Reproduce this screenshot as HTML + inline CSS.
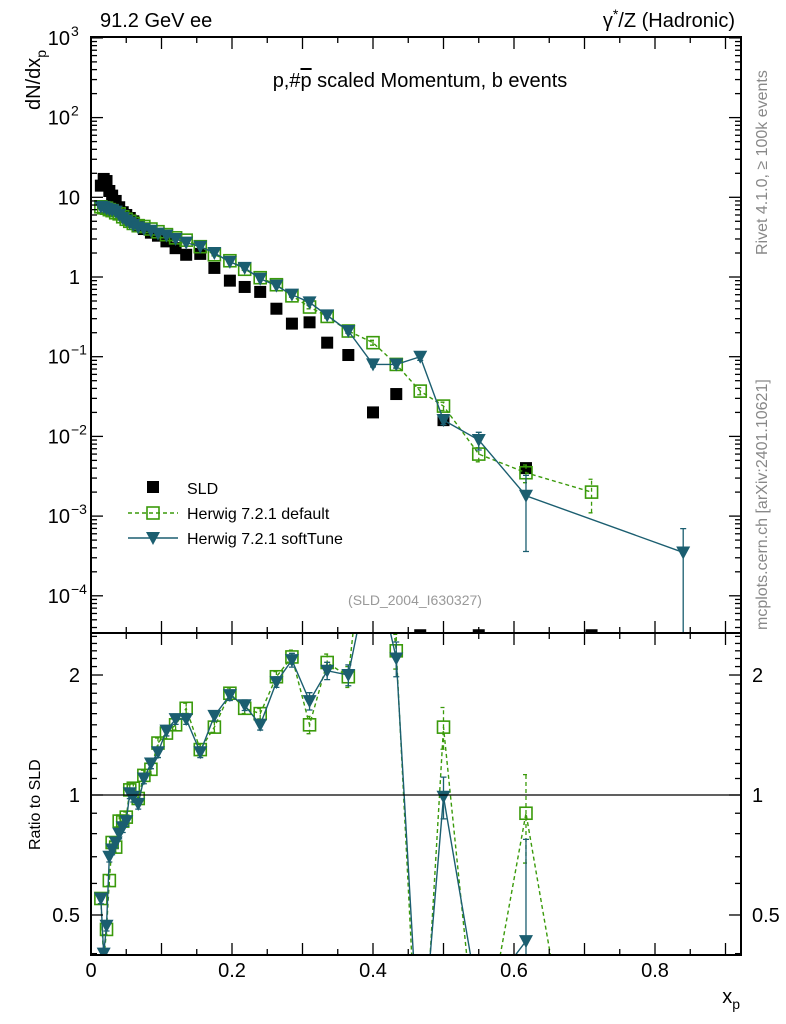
<!DOCTYPE html>
<html><head><meta charset="utf-8"><style>
html,body{margin:0;background:#fff;overflow:hidden;width:786px;height:1024px;}
svg{display:block;font-family:"Liberation Sans",sans-serif;}
</style></head><body>
<svg id="c" width="786" height="1024"></svg>
<script>
const xs     =[0.014,0.018,0.022,0.026,0.030,0.035,0.040,0.045,0.050,0.055,0.060,0.067,0.075,0.085,0.095,0.107,0.120,0.135,0.155,0.175,0.197,0.218,0.240,0.263,0.285,0.310,0.335,0.365,0.400,0.433,0.467,0.500,0.550,0.617,0.710,0.840];
const sld    =[14,17,16,12,10.5,9,7.5,6.5,6,5.5,5,4.5,4,3.6,3.3,2.8,2.3,1.9,1.95,1.3,0.9,0.75,0.65,0.4,0.26,0.27,0.15,0.105,0.02,0.034,3.2e-5,0.016,3.2e-5,0.004,3.2e-5,null];
const hwDef  =[7.6,7.4,7.3,7.0,6.8,6.4,6.2,5.7,5.3,5.0,4.7,4.4,4.3,4.0,3.7,3.4,3.1,2.9,2.4,1.9,1.6,1.25,0.98,0.8,0.58,0.42,0.32,0.21,0.15,0.08,0.037,0.024,0.006,0.0035,0.002,null];
const hwSoft =[7.6,7.5,7.2,7.0,6.9,6.6,6.0,5.5,5.1,4.8,4.5,4.2,4.0,3.8,3.5,3.3,3.0,2.7,2.4,2.0,1.55,1.3,0.95,0.78,0.6,0.48,0.33,0.21,0.08,0.08,0.1,0.016,0.009,0.0018,null,0.00035];
const rDef   =[0.55,0.38,0.46,0.61,0.76,0.74,0.86,0.86,0.88,1.03,1.04,0.98,1.12,1.16,1.35,1.43,1.5,1.65,1.3,1.48,1.8,1.65,1.6,1.98,2.22,1.5,2.15,1.98,7.5,2.3,0.15,1.48,0.2,0.9,0.1,null];
const rSoft  =[0.55,0.4,0.47,0.7,0.73,0.76,0.8,0.83,0.86,1.01,0.99,0.95,1.1,1.2,1.28,1.45,1.55,1.55,1.28,1.58,1.78,1.68,1.5,1.92,2.18,1.72,2.05,2.0,4.0,2.2,0.2,0.99,0.3,0.43,null,null];
const errDef =[0.03,0.03,0.03,0.03,0.03,0.03,0.03,0.03,0.03,0.03,0.03,0.03,0.03,0.03,0.03,0.03,0.03,0.03,0.03,0.03,0.03,0.03,0.03,0.03,0.04,0.05,0.05,0.06,0.07,0.1,0.1,0.12,0.2,0.25,0.45,0];
const errSoft=[0.03,0.03,0.03,0.03,0.03,0.03,0.03,0.03,0.03,0.03,0.03,0.03,0.03,0.03,0.03,0.03,0.03,0.03,0.03,0.03,0.03,0.03,0.03,0.03,0.04,0.05,0.05,0.06,0.07,0.1,0.1,0.12,0.25,0.8,0,0.99];

const L=91,R=741,T=37,MB=633,B=955;
const X=v=>L+v*705;
const Y=v=>277-79.7*Math.log10(v);
const RY=v=>795-398.6*Math.log10(v);
const svg=document.getElementById('c');
const NS='http://www.w3.org/2000/svg';
function el(t,a,p){const e=document.createElementNS(NS,t);for(const k in a)e.setAttribute(k,a[k]);(p||svg).appendChild(e);return e;}
el('defs',{}).innerHTML='<clipPath id="cm"><rect x="91" y="37" width="650" height="596"/></clipPath><clipPath id="cr"><rect x="91" y="633" width="650" height="322"/></clipPath>';
const gm=el('g',{'clip-path':'url(#cm)'});


const gr=el('g',{'clip-path':'url(#cr)'});


const GREEN='#3a9a0a',TEAL='#1b5e70';
function tri(g,x,y,n){const t=el('polygon',{points:`${x-7},${y-6} ${x+7},${y-6} ${x},${y+7}`,fill:TEAL},g);}
function sq(g,x,y,n){const s=el('rect',{x:x-6,y:y-6,width:12,height:12,fill:'none',stroke:GREEN,'stroke-width':1.6},g);}
function series(g,vals,errs,yf,col,dash,mark,name){
  let pts=[];
  vals.forEach((v,i)=>{if(v==null)return;pts.push(`${X(xs[i])},${yf(v)}`);});
  const pl=el('polyline',{points:pts.join(' '),fill:'none',stroke:col,'stroke-width':1.4,'stroke-dasharray':dash},g);
  
  
  vals.forEach((v,i)=>{if(v==null)return;const e=errs[i];if(e>0){const lo=Math.max(v*(1-e),1e-9),hi=v*(1+e);
    const eb=el('path',{d:`M${X(xs[i])},${yf(lo)}V${yf(hi)}M${X(xs[i])-3},${yf(lo)}h6M${X(xs[i])-3},${yf(hi)}h6`,stroke:col,'stroke-width':1.3,fill:'none','stroke-dasharray':dash},g);
    
    }
    mark(g,X(xs[i]),yf(v),name+'-point');});
}
sld.forEach((v,i)=>{if(v==null)return;const r=el('rect',{x:X(xs[i])-6,y:Y(v)-6,width:12,height:12,fill:'#000'},gm);

});
series(gm,hwDef,errDef,Y,GREEN,'4,3',sq,'herwig-default');
series(gm,hwSoft,errSoft,Y,TEAL,'',tri,'herwig-softtune');
const one=el('line',{x1:L,x2:R,y1:RY(1),y2:RY(1),stroke:'#000','stroke-width':1.3});


series(gr,rDef,errDef,RY,GREEN,'4,3',sq,'ratio-herwig-default');
series(gr,rSoft,errSoft,RY,TEAL,'',tri,'ratio-herwig-softtune');
[[T,MB],[MB,B]].forEach(([a,b],k)=>{const f=el('rect',{x:L,y:a,width:R-L,height:b-a,fill:'none',stroke:'#000','stroke-width':2});

});
for(let v=0;v<=0.92;v+=0.05){const x=X(v),maj=Math.abs(v*10-Math.round(v*10))<1e-6,len=maj?12:6;
 el('line',{x1:x,x2:x,y1:B,y2:B-len,stroke:'#000','stroke-width':1.3});
 el('line',{x1:x,x2:x,y1:MB,y2:MB-len,stroke:'#000','stroke-width':1.3});
 el('line',{x1:x,x2:x,y1:T,y2:T+len,stroke:'#000','stroke-width':1.3});
 el('line',{x1:x,x2:x,y1:MB,y2:MB+len,stroke:'#000','stroke-width':1.3});}
const xl=['0','0.2','0.4','0.6','0.8'];
xl.forEach((s,i)=>{const t=el('text',{x:X(i*0.2),y:977,'font-size':20,'text-anchor':'middle'});t.textContent=s;

});
for(let d=-5;d<=3;d++)for(let m=1;m<10;m++){const v=m*Math.pow(10,d),y=Y(v);if(y<T||y>MB)continue;const len=m==1?12:6;
 el('line',{x1:L,x2:L+len,y1:y,y2:y,stroke:'#000','stroke-width':1.3});el('line',{x1:R,x2:R-len,y1:y,y2:y,stroke:'#000','stroke-width':1.3});}
const yl=[['10','3'],['10','2'],['10',''],['1',''],['10','−1'],['10','−2'],['10','−3'],['10','−4']];
yl.forEach((p,i)=>{const y=Y(Math.pow(10,3-i));const t=el('text',{x:p[1]?70:80,y:y+7,'font-size':20,'text-anchor':'end'});t.textContent=p[0];


if(p[1]){const s=el('text',{x:71,y:y-2,'font-size':14,'text-anchor':'start'});s.textContent=p[1];}});
[0.4,0.5,0.6,0.7,0.8,0.9,1,1.1,1.2,1.3,1.4,1.5,1.6,1.7,1.8,1.9,2,2.1,2.2,2.3,2.4,2.5].forEach(v=>{const y=RY(v),maj=[0.5,1,2].includes(v),len=maj?12:6;
 el('line',{x1:L,x2:L+len,y1:y,y2:y,stroke:'#000','stroke-width':1.3});el('line',{x1:R,x2:R-len,y1:y,y2:y,stroke:'#000','stroke-width':1.3});});
[['2',2],['1',1],['0.5',0.5]].forEach(([s,v])=>{const a=el('text',{x:80,y:RY(v)+7,'font-size':20,'text-anchor':'end'});a.textContent=s;
const b=el('text',{x:752,y:RY(v)+7,'font-size':20});b.textContent=s;});
function txt(x,y,s,sz,o,name){const t=el('text',Object.assign({x,y,'font-size':sz},o||{}));t.innerHTML=s;return t;}
txt(100,27,'91.2 GeV ee',20,{},'energy-label');
txt(735,27,'γ<tspan dy="-8" font-size="14">*</tspan><tspan dy="8">/Z (Hadronic)</tspan>',20,{'text-anchor':'end'},'process-label');
txt(420,87,'p,#<tspan text-decoration="overline">p</tspan> scaled Momentum, b events',20,{'text-anchor':'middle'},'plot-title');
txt(740,1003,'x<tspan dy="6" font-size="14">p</tspan>',20,{'text-anchor':'end'},'x-axis-title');
txt(0,0,'dN/dx<tspan dy="6" font-size="14">p</tspan>',20,{transform:'translate(40,110) rotate(-90)'},'y-axis-title');
txt(0,0,'Ratio to SLD',16,{transform:'translate(40,850) rotate(-90)'},'ratio-y-axis-title');
txt(0,0,'Rivet 4.1.0, ≥ 100k events',16,{transform:'translate(767,255) rotate(-90)',fill:'#888'},'rivet-label');
txt(0,0,'mcplots.cern.ch [arXiv:2401.10621]',16,{transform:'translate(767,630) rotate(-90)',fill:'#888'},'mcplots-label');
txt(415,605,'(SLD_2004_I630327)',14,{'text-anchor':'middle',fill:'#999'},'analysis-id');
const lg=el('g',{});
el('rect',{x:147,y:481,width:12,height:12,fill:'#000'},lg);
txt(187,494,'SLD',16,{},'legend-sld');
el('line',{x1:128,x2:178,y1:513,y2:513,stroke:GREEN,'stroke-width':1.4,'stroke-dasharray':'4,3'},lg);sq(lg,153,513,'legend-default-marker');
txt(187,519,'Herwig 7.2.1 default',16,{},'legend-herwig-default');
el('line',{x1:128,x2:178,y1:538,y2:538,stroke:TEAL,'stroke-width':1.4},lg);tri(lg,153,538,'legend-softtune-marker');
txt(187,544,'Herwig 7.2.1 softTune',16,{},'legend-herwig-softtune');
</script>
</body></html>
